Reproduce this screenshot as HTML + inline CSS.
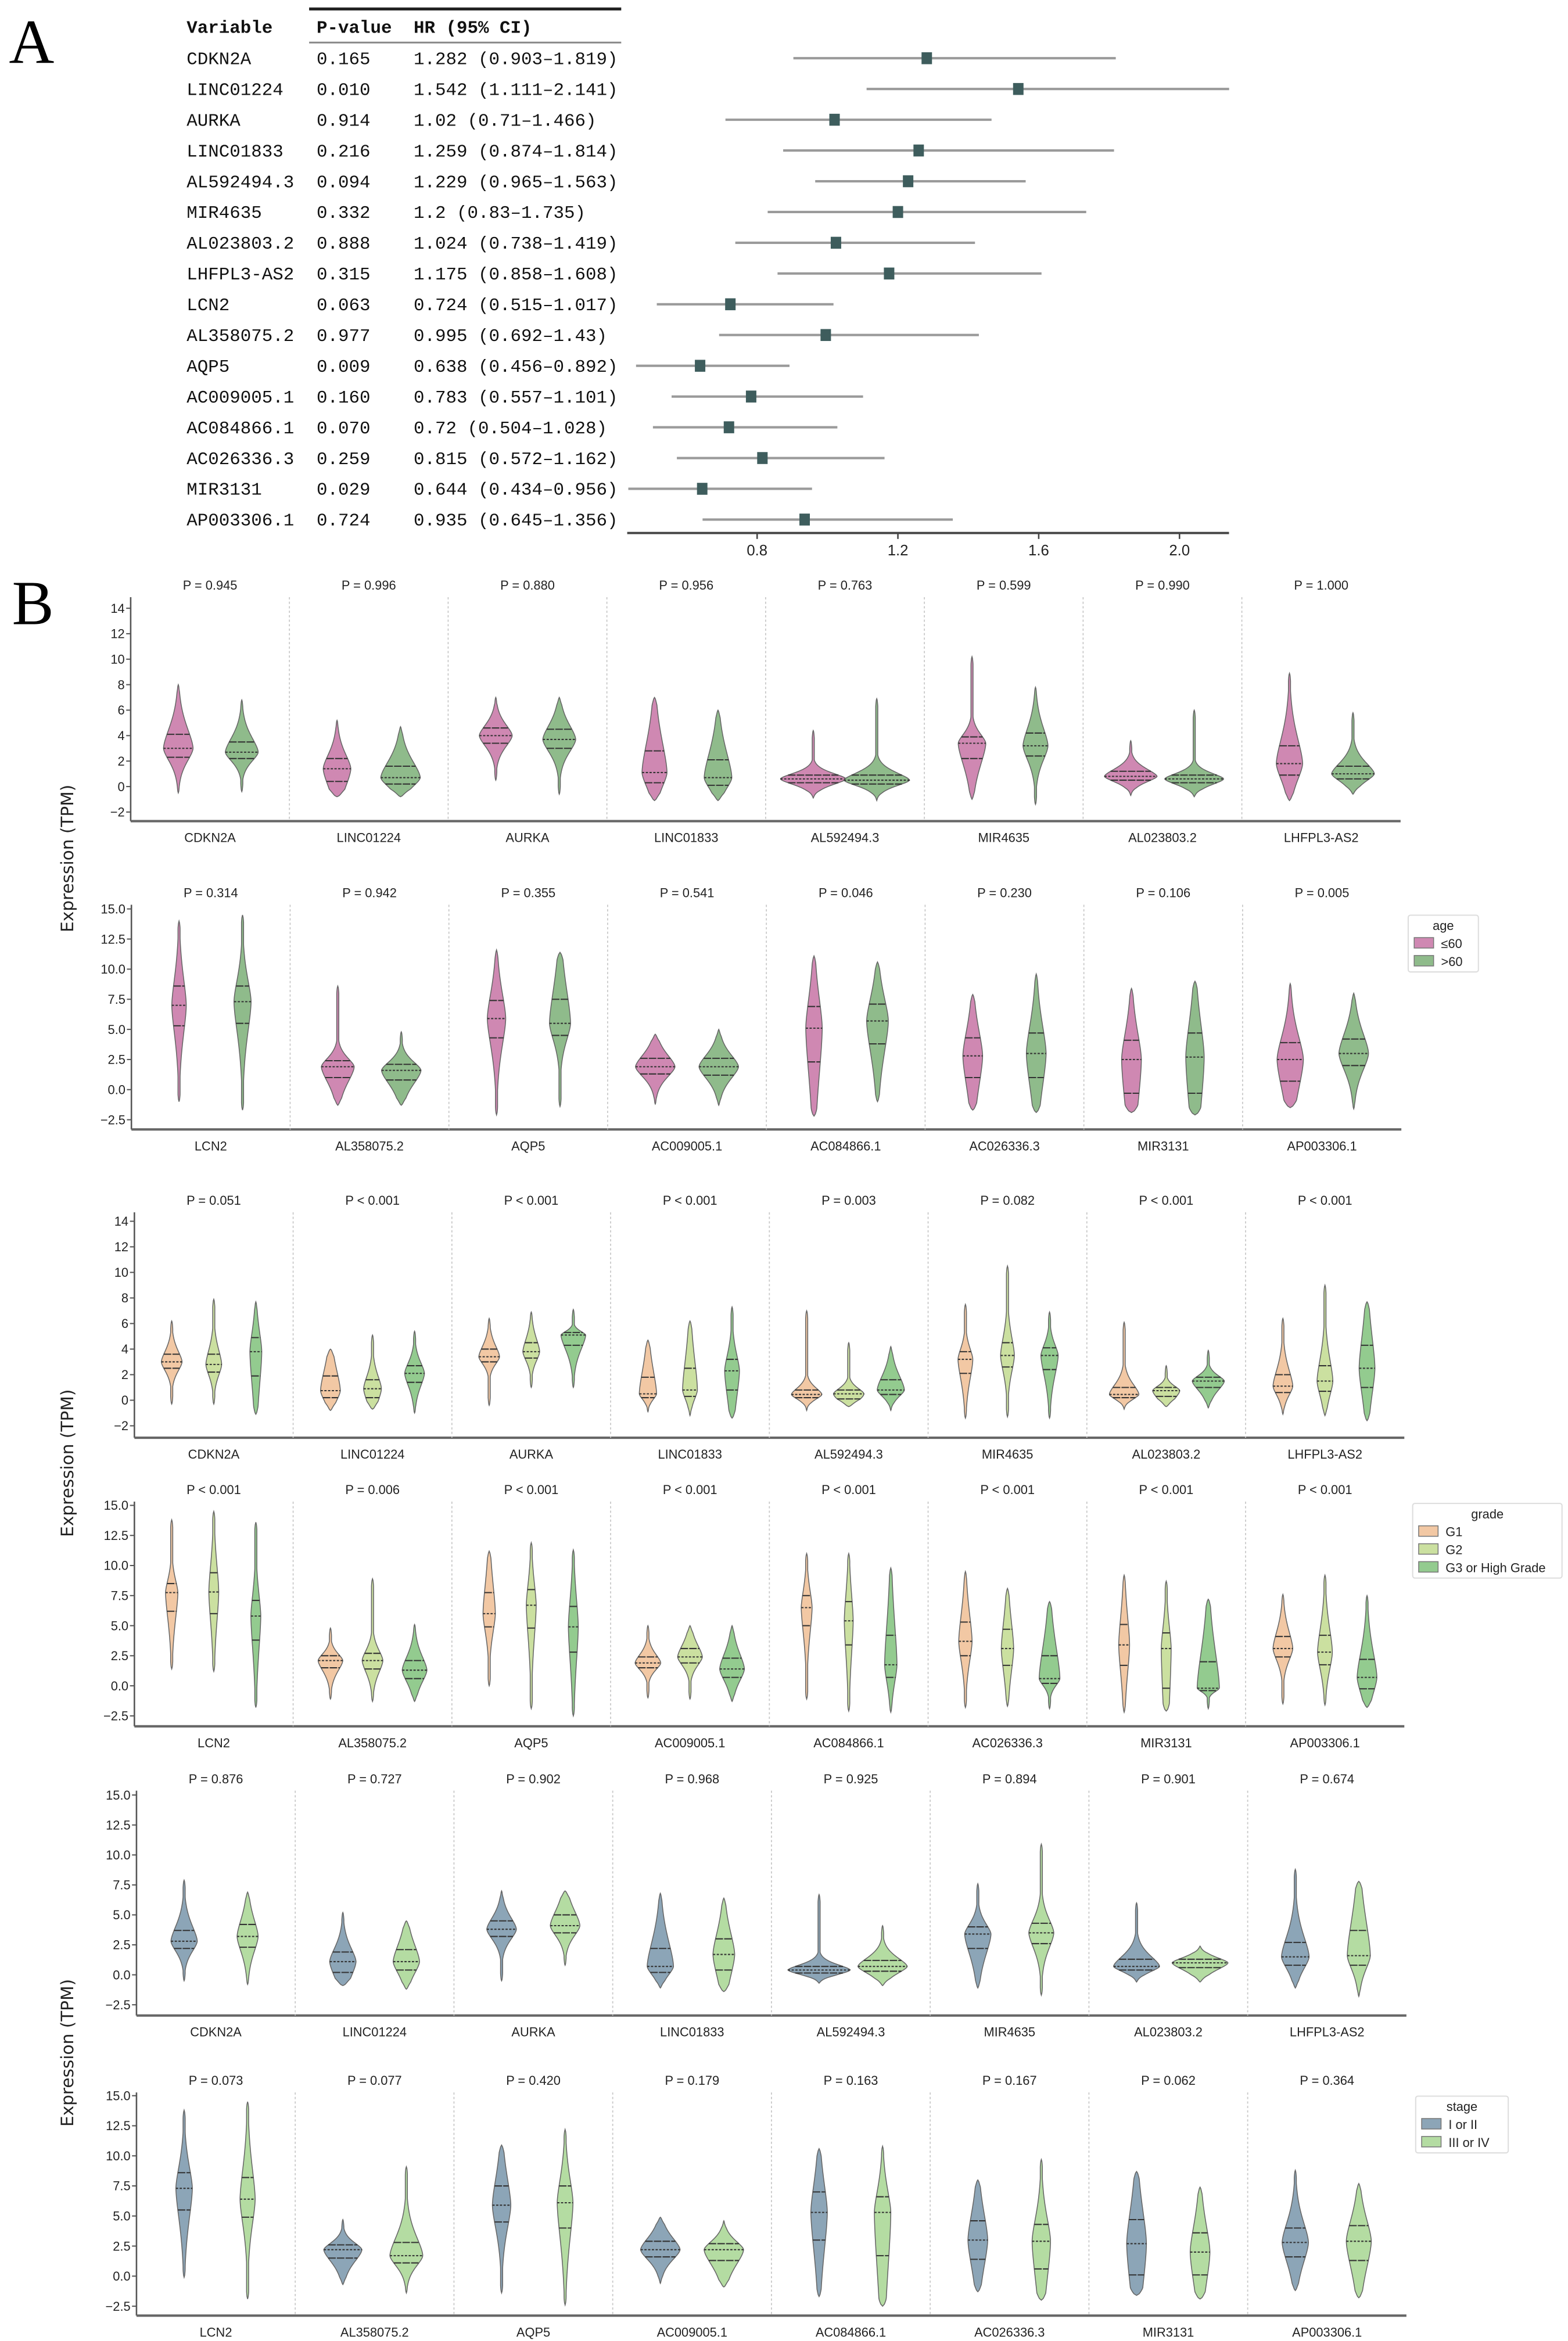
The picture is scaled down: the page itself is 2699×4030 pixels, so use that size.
<!DOCTYPE html>
<html><head><meta charset="utf-8"><style>
html,body{margin:0;padding:0;background:#fff;}
svg{display:block;}
</style></head><body>
<svg id="fig" xmlns="http://www.w3.org/2000/svg" width="2699" height="4030" viewBox="0 0 1050 1568" preserveAspectRatio="none" font-family="'Liberation Sans', sans-serif">
<rect width="1050" height="1568" fill="#fff"/>
<text x="6" y="42" font-family="'Liberation Serif', serif" font-size="42">A</text>
<text x="8" y="418" font-family="'Liberation Serif', serif" font-size="42">B</text>
<g id="forest"></g>
<g id="violins"></g>
</svg>
<script>
// ---------- Forest plot data ----------
const forestVars = ["CDKN2A","LINC01224","AURKA","LINC01833","AL592494.3","MIR4635","AL023803.2","LHFPL3-AS2","LCN2","AL358075.2","AQP5","AC009005.1","AC084866.1","AC026336.3","MIR3131","AP003306.1"];
const forestP = ["0.165","0.010","0.914","0.216","0.094","0.332","0.888","0.315","0.063","0.977","0.009","0.160","0.070","0.259","0.029","0.724"];
const forestHR = [1.282,1.542,1.02,1.259,1.229,1.2,1.024,1.175,0.724,0.995,0.638,0.783,0.72,0.815,0.644,0.935];
const forestLo = [0.903,1.111,0.71,0.874,0.965,0.83,0.738,0.858,0.515,0.692,0.456,0.557,0.504,0.572,0.434,0.645];
const forestHi = [1.819,2.141,1.466,1.814,1.563,1.735,1.419,1.608,1.017,1.43,0.892,1.101,1.028,1.162,0.956,1.356];
const forestTicks = [0.8,1.2,1.6,2.0];

// ---------- Violin data: [min,q1,median,q3,max,relWidth] ----------
const genesTop = ["CDKN2A","LINC01224","AURKA","LINC01833","AL592494.3","MIR4635","AL023803.2","LHFPL3-AS2"];
const genesBottom = ["LCN2","AL358075.2","AQP5","AC009005.1","AC084866.1","AC026336.3","MIR3131","AP003306.1"];
const ticksA = [-2,0,2,4,6,8,10,12,14];
const ticksB = [-2.5,0,2.5,5,7.5,10,12.5,15];
const ticksLabelsB = ["−2.5","0.0","2.5","5.0","7.5","10.0","12.5","15.0"];
const ticksLabelsA = ["−2","0","2","4","6","8","10","12","14"];

const pAge1 = ["P = 0.945","P = 0.996","P = 0.880","P = 0.956","P = 0.763","P = 0.599","P = 0.990","P = 1.000"];
const pAge2 = ["P = 0.314","P = 0.942","P = 0.355","P = 0.541","P = 0.046","P = 0.230","P = 0.106","P = 0.005"];
const pGrade1 = ["P = 0.051","P < 0.001","P < 0.001","P < 0.001","P = 0.003","P = 0.082","P < 0.001","P < 0.001"];
const pGrade2 = ["P < 0.001","P = 0.006","P < 0.001","P < 0.001","P < 0.001","P < 0.001","P < 0.001","P < 0.001"];
const pStage1 = ["P = 0.876","P = 0.727","P = 0.902","P = 0.968","P = 0.925","P = 0.894","P = 0.901","P = 0.674"];
const pStage2 = ["P = 0.073","P = 0.077","P = 0.420","P = 0.179","P = 0.163","P = 0.167","P = 0.062","P = 0.364"];

const age1 = [
 [[-0.5,2.3,3.0,4.1,8.0,.45],[-0.4,2.2,2.7,3.5,6.8,.5]],
 [[-0.8,0.4,1.4,2.2,5.2,.42],[-0.8,0.2,0.7,1.6,4.7,.6]],
 [[0.5,3.4,4.0,4.6,7.0,.5],[-0.6,3.0,3.7,4.5,7.0,.5]],
 [[-1.1,0.3,1.1,2.8,7.0,.38],[-1.1,0.1,0.7,2.1,6.0,.42]],
 [[-0.9,0.3,0.6,0.9,4.4,1.0],[-1.1,0.2,0.5,0.9,6.9,1.0]],
 [[-1.0,2.2,3.4,3.9,10.2,.42],[-1.4,2.4,3.2,4.2,7.8,.38]],
 [[-0.7,0.5,0.8,1.2,3.6,.8],[-0.8,0.3,0.6,0.9,6.0,.9]],
 [[-1.1,0.9,1.8,3.2,8.9,.4],[-0.6,0.6,1.0,1.6,5.8,.65]]
];
const age2 = [
 [[-1.0,5.3,7.0,8.6,14.0,.22],[-1.7,5.5,7.3,8.6,14.5,.26]],
 [[-1.3,1.0,1.9,2.4,8.6,.5],[-1.3,0.8,1.6,2.1,4.8,.6]],
 [[-2.1,4.3,5.9,7.4,11.6,.28],[-1.4,4.5,5.5,7.5,11.4,.32]],
 [[-1.2,1.3,1.9,2.6,4.6,.6],[-1.3,1.2,1.9,2.6,5.0,.6]],
 [[-2.2,2.3,5.1,6.9,11.1,.25],[-1.0,3.8,5.7,7.1,10.6,.33]],
 [[-1.7,1.0,2.8,4.3,7.9,.3],[-1.9,1.0,3.0,4.7,9.6,.3]],
 [[-1.9,-0.3,2.5,4.1,8.4,.3],[-2.1,-0.3,2.7,4.7,9.0,.28]],
 [[-1.5,0.7,2.5,3.9,8.8,.4],[-1.6,2.0,3.0,4.2,8.0,.45]]
];
const grade1 = [
 [[-0.3,2.5,3.0,3.6,6.2,.42],[-0.3,2.2,2.8,3.6,7.9,.32],[-1.1,1.9,3.8,4.9,7.7,.24]],
 [[-0.8,0.2,0.75,1.9,4.0,.4],[-0.7,0.2,0.9,1.6,5.1,.36],[-1.0,1.4,2.1,2.7,5.4,.4]],
 [[-0.4,3.0,3.4,4.0,6.4,.42],[1.0,3.3,3.8,4.5,6.9,.34],[1.0,4.3,5.1,5.3,7.1,.5]],
 [[-0.9,0.2,0.5,1.8,4.7,.35],[-1.2,0.3,0.8,2.5,6.2,.3],[-1.4,0.8,2.3,3.2,7.3,.3]],
 [[-0.8,0.2,0.45,0.8,7.0,.62],[-0.5,0.1,0.5,0.8,4.5,.62],[-0.8,0.45,0.8,1.6,4.2,.55]],
 [[-1.4,2.1,3.2,3.8,7.5,.3],[-1.3,2.6,3.5,4.5,10.5,.28],[-1.4,2.4,3.5,4.1,6.9,.35]],
 [[-0.7,0.2,0.45,1.0,6.1,.6],[-0.5,0.3,0.75,1.0,2.7,.55],[-0.6,1.0,1.5,1.8,3.9,.65]],
 [[-1.1,0.6,1.1,2.0,6.4,.4],[-1.2,0.7,1.5,2.7,9.0,.32],[-1.6,1.0,2.5,4.3,7.7,.32]]
];
const grade2 = [
 [[1.4,6.2,7.75,8.5,13.8,.25],[1.2,6.0,7.8,9.4,14.5,.2],[-1.8,3.8,5.8,7.1,13.6,.2]],
 [[-1.1,1.5,2.1,2.5,4.8,.5],[-1.3,1.4,2.1,2.7,8.9,.42],[-1.3,0.6,1.3,2.1,5.1,.5]],
 [[0.0,4.9,6.0,7.75,11.2,.25],[-1.9,4.8,6.7,8.0,11.9,.2],[-2.5,2.8,4.9,6.6,11.3,.2]],
 [[-1.0,1.5,1.9,2.4,5.0,.52],[-1.1,1.9,2.4,3.1,5.0,.5],[-1.3,0.7,1.4,2.3,5.0,.5]],
 [[-1.1,5.0,6.5,7.5,11.0,.22],[-2.1,3.4,5.4,7.0,11.0,.18],[-2.2,0.7,1.75,4.2,9.8,.25]],
 [[-1.8,2.5,3.7,5.3,9.5,.27],[-1.7,1.7,3.1,4.7,8.1,.25],[-1.9,0.2,0.6,2.5,7.0,.42]],
 [[-2.2,1.7,3.4,5.1,9.2,.22],[-2.1,-0.2,3.1,4.4,8.7,.2],[-1.9,-0.4,-0.2,2.0,7.2,.45]],
 [[-1.5,2.4,3.1,4.1,7.6,.4],[-1.6,1.75,2.8,4.2,9.2,.3],[-1.8,-0.25,0.7,2.2,7.5,.4]]
];
const stage1 = [
 [[-0.5,2.2,2.8,3.7,7.9,.4],[-0.8,2.3,3.2,4.2,6.9,.32]],
 [[-0.9,0.2,1.1,1.9,5.2,.4],[-1.2,0.4,1.1,2.1,4.5,.4]],
 [[-0.5,3.2,3.8,4.5,7.0,.45],[0.8,3.5,4.1,5.0,7.0,.45]],
 [[-1.1,0.2,0.7,2.2,6.8,.4],[-1.4,0.4,1.7,3.0,6.4,.33]],
 [[-0.7,0.15,0.4,0.7,6.7,.95],[-0.9,0.3,0.7,1.2,4.1,.75]],
 [[-1.1,2.2,3.4,4.0,7.6,.4],[-1.7,2.6,3.5,4.3,10.9,.38]],
 [[-0.6,0.4,0.7,1.3,6.0,.7],[-0.6,0.6,1.0,1.3,2.4,.85]],
 [[-1.1,0.8,1.5,2.7,8.8,.42],[-1.8,0.8,1.6,3.7,7.8,.35]]
];
const stage2 = [
 [[-0.1,5.5,7.3,8.6,13.8,.25],[-1.9,4.9,6.4,8.2,14.5,.23]],
 [[-0.7,1.5,2.2,2.6,4.7,.58],[-1.4,1.1,1.7,2.8,9.1,.5]],
 [[-1.4,4.5,5.9,7.5,10.9,.28],[-2.4,4.0,6.1,7.5,12.2,.24]],
 [[-0.6,1.6,2.2,2.9,4.9,.6],[-0.9,1.3,2.2,2.7,4.6,.6]],
 [[-1.7,3.0,5.3,7.0,10.6,.25],[-2.5,1.7,5.3,6.6,10.8,.25]],
 [[-1.3,1.4,3.0,4.6,8.0,.3],[-2.0,0.6,2.9,4.3,9.7,.28]],
 [[-1.6,0.1,2.7,4.7,8.7,.3],[-1.9,0.1,2.0,3.6,7.4,.3]],
 [[-1.2,1.6,2.8,4.0,8.8,.4],[-1.8,1.3,2.9,4.2,7.7,.38]]
];

const ageColors = ["#cf88b2","#8fbb8b"];
const gradeColors = ["#f2c8a4","#cbe0a0","#93cb8f"];
const stageColors = ["#8ca5b7","#b4dca2"];

const NS = "http://www.w3.org/2000/svg";
function mk(tag, attrs, parent, text){
  const e = document.createElementNS(NS, tag);
  for (const k in attrs) e.setAttribute(k, attrs[k]);
  if (text !== undefined) e.textContent = text;
  parent.appendChild(e);
  return e;
}

// ---------- Forest ----------
const fg = document.getElementById('forest');
const fx = v => 507 + (v - 0.8) * 235.7;
const rowY = i => 39 + i * 20.6;
const mono = "'Liberation Mono', 'DejaVu Sans Mono', monospace";
let l = mk('line',{x1:207,y1:6,x2:416,y2:6,stroke:'#222','stroke-width':2},fg);
 
l = mk('line',{x1:207,y1:28.5,x2:416,y2:28.5,stroke:'#888','stroke-width':1.2},fg);
 
[["Variable",125],["P-value",212],["HR (95% CI)",277]].forEach(h=>{
  const t = mk('text',{x:h[1],y:22,'font-family':mono,'font-size':12,'font-weight':'bold',fill:'#111'},fg,h[0]);
   
});
forestVars.forEach((v,i)=>{
  const y = rowY(i);
  let t = mk('text',{x:125,y:y+4,'font-family':mono,'font-size':12,fill:'#111'},fg,v);
   
  t = mk('text',{x:212,y:y+4,'font-family':mono,'font-size':12,fill:'#111'},fg,forestP[i]);
   
  t = mk('text',{x:277,y:y+4,'font-family':mono,'font-size':12,fill:'#111'},fg,forestHR[i]+' ('+forestLo[i]+'–'+forestHi[i]+')');
   
  const ci = mk('line',{x1:fx(forestLo[i]),y1:y,x2:fx(forestHi[i]),y2:y,stroke:'#9a9a9a','stroke-width':1.6},fg);
   
  const sq = mk('rect',{x:fx(forestHR[i])-3.5,y:y-4,width:7,height:8,fill:'#3e5d5d'},fg);
   
});
l = mk('line',{x1:420,y1:357,x2:823,y2:357,stroke:'#444','stroke-width':1.5},fg);
 
forestTicks.forEach(tv=>{
  const tk = mk('line',{x1:fx(tv),y1:357,x2:fx(tv),y2:361,stroke:'#444','stroke-width':1},fg);
   
  const tl = mk('text',{x:fx(tv),y:372,'text-anchor':'middle','font-size':10,fill:'#222'},fg,tv.toFixed(1));
   
});

// ---------- Violins ----------
const vg = document.getElementById('violins');
const colW = 106.3;
const maxHW = 22;

function drawRow(cfg){
  const g = mk('g',{},vg);
   
  const ys = v => cfg.py1 + (v - cfg.v1) * (cfg.py2 - cfg.py1) / (cfg.v2 - cfg.v1);
  const x0 = cfg.x0, xEnd = x0 + 8 * colW;
  let a = mk('line',{x1:x0,y1:cfg.top,x2:x0,y2:cfg.bottom,stroke:'#555','stroke-width':1},g);
   
  a = mk('line',{x1:x0,y1:cfg.bottom,x2:xEnd,y2:cfg.bottom,stroke:'#666','stroke-width':1.6},g);
   
  cfg.ticks.forEach((tv,k)=>{
    const y = ys(tv);
    const tk = mk('line',{x1:x0-3,y1:y,x2:x0,y2:y,stroke:'#555','stroke-width':0.8},g);
     
    const tl = mk('text',{x:x0-4,y:y+3,'text-anchor':'end','font-size':8.5,fill:'#222'},g,cfg.tickLabels[k]);
     
  });
  for (let c = 0; c < 8; c++){
    const cx = x0 + colW * (c + 0.5);
    if (c > 0){
      const s = mk('line',{x1:x0+colW*c,y1:cfg.top,x2:x0+colW*c,y2:cfg.bottom,stroke:'#c8c8c8','stroke-width':0.7,'stroke-dasharray':'1.5,1.5'},g);
       
    }
    const pt = mk('text',{x:cx,y:cfg.top-5,'text-anchor':'middle','font-size':8.5,fill:'#222'},g,cfg.pvals[c]);
     
    const ct = mk('text',{x:cx,y:cfg.bottom+14,'text-anchor':'middle','font-size':8.5,fill:'#222'},g,cfg.genes[c]);
     
    const groups = cfg.data[c];
    const n = groups.length;
    const off = n === 2 ? [-0.2, 0.2] : [-0.265, 0, 0.265];
    groups.forEach((d,gi)=>{
      const gx = cx + off[gi] * colW;
      const [mn,q1,md,q3,mx,w] = d;
      const W = w * maxHW * (n === 3 ? 0.75 : 1);
      const sL = Math.max((md - q1) / 0.674, 0.25), sU = Math.max((q3 - md) / 0.674, 0.25);
      const hwf = v => {
        if (v <= mn || v >= mx) return 0;
        const z = Math.abs((v - md) / (v < md ? sL : sU));
        let h = W * Math.exp(-0.5 * Math.pow(z, 1.6));
        h = Math.max(h, 0.7);
        const taper = Math.min(1, (v - mn) / 0.6, (mx - v) / 0.6);
        return h * Math.sqrt(Math.max(taper,0));
      };
      const N = 80; let right = [], left = [];
      for (let k = 0; k <= N; k++){
        const v = mn + (mx - mn) * k / N;
        const h = hwf(v); const y = ys(v);
        right.push((gx + h).toFixed(2) + ',' + y.toFixed(2));
        left.unshift((gx - h).toFixed(2) + ',' + y.toFixed(2));
      }
      const p = mk('path',{d:'M' + right.join(' L') + ' L' + left.join(' L') + ' Z', fill:cfg.colors[gi], stroke:'#666','stroke-width':0.6},g);
       
      [q1,md,q3].forEach((qv,qi)=>{
        const h = hwf(qv); const y = ys(qv);
        const ql = mk('line',{x1:gx-h,y1:y,x2:gx+h,y2:y,stroke:'#333','stroke-width':0.8,'stroke-dasharray': qi===1 ? '1.5,1' : '5,0.8'},g);
         
      });
    });
  }
}

drawRow({name:'age-row-1',x0:87.5,top:400,bottom:550,v1:14,py1:407.4,v2:-2,py2:543.9,ticks:ticksA,tickLabels:ticksLabelsA,pvals:pAge1,genes:genesTop,data:age1,colors:ageColors,groupNames:['le60','gt60']});
drawRow({name:'age-row-2',x0:88,top:606,bottom:756.5,v1:15,py1:608.8,v2:-2.5,py2:750,ticks:ticksB,tickLabels:ticksLabelsB,pvals:pAge2,genes:genesBottom,data:age2,colors:ageColors,groupNames:['le60','gt60']});
drawRow({name:'grade-row-1',x0:90,top:812,bottom:963,v1:14,py1:818,v2:-2,py2:955,ticks:ticksA,tickLabels:ticksLabelsA,pvals:pGrade1,genes:genesTop,data:grade1,colors:gradeColors,groupNames:['g1','g2','g3']});
drawRow({name:'grade-row-2',x0:90,top:1005.8,bottom:1156.3,v1:15,py1:1008.3,v2:-2.5,py2:1149.3,ticks:ticksB,tickLabels:ticksLabelsB,pvals:pGrade2,genes:genesBottom,data:grade2,colors:gradeColors,groupNames:['g1','g2','g3']});
drawRow({name:'stage-row-1',x0:91.4,top:1199.4,bottom:1350,v1:15,py1:1202.3,v2:-2.5,py2:1342.8,ticks:ticksB,tickLabels:ticksLabelsB,pvals:pStage1,genes:genesTop,data:stage1,colors:stageColors,groupNames:['i-ii','iii-iv']});
drawRow({name:'stage-row-2',x0:91.4,top:1401.5,bottom:1551,v1:15,py1:1403.7,v2:-2.5,py2:1544.7,ticks:ticksB,tickLabels:ticksLabelsB,pvals:pStage2,genes:genesBottom,data:stage2,colors:stageColors,groupNames:['i-ii','iii-iv']});

[575,980,1375].forEach(cy=>{
  const t = mk('text',{x:0,y:0,transform:'translate(49,'+cy+') rotate(-90)','text-anchor':'middle','font-size':11.5,fill:'#222','font-family':"'DejaVu Sans', 'Liberation Sans', sans-serif"},vg,'Expression (TPM)');
   
});

function legend(name,x,y,w,title,labels,colors){
  const g = mk('g',{},vg);
   
  mk('rect',{x:x,y:y,width:w,height:14+labels.length*12,fill:'#fff',stroke:'#ddd','stroke-width':0.8,rx:1.5},g);
  const tt = mk('text',{x:x+w/2,y:y+10,'text-anchor':'middle','font-size':8.5,fill:'#222'},g,title);
   
  labels.forEach((lb,i)=>{
    const yy = y + 15 + i*12;
    const r = mk('rect',{x:x+4,y:yy,width:13,height:7,fill:colors[i],stroke:'#777','stroke-width':0.6},g);
     
    const t = mk('text',{x:x+22,y:yy+7,'font-size':8.5,fill:'#222','font-family':"'Liberation Sans','DejaVu Sans',sans-serif"},g,lb);
     
  });
}
legend('age-legend',943,613,47,'age',['≤60','>60'],ageColors);
legend('grade-legend',946,1007,100,'grade',['G1','G2','G3 or High Grade'],gradeColors);
legend('stage-legend',948,1404,62,'stage',['I or II','III or IV'],stageColors);
</script>
</body></html>
